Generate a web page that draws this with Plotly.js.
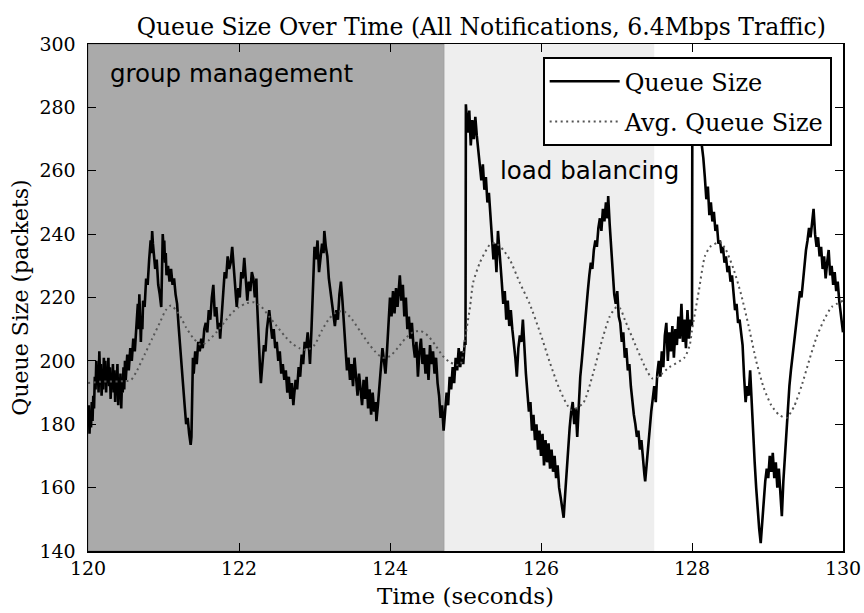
<!DOCTYPE html>
<html>
<head>
<meta charset="utf-8">
<script src="https://cdn.plot.ly/plotly-3.0.1.min.js"></script>
<style>html,body{margin:0;padding:0;background:#fff;}#chart{width:864px;height:613px;}</style>
</head>
<body>
<div id="chart"></div>
<script>
// Queue size samples: [time (s), packets]
const queueTime = [
120.00,120.01,120.02,120.03,120.04,120.05,120.06,120.07,120.08,120.09,120.10,120.11,120.12,120.13,120.14,120.15,120.16,120.17,120.18,120.19,
120.20,120.21,120.22,120.23,120.24,120.25,120.26,120.27,120.28,120.29,120.30,120.31,120.32,120.33,120.34,120.35,120.36,120.37,120.38,120.39,
120.40,120.41,120.42,120.43,120.44,120.45,120.46,120.47,120.48,120.49,120.50,120.52,120.54,120.56,120.58,120.60,120.62,120.64,120.66,120.67,
120.68,120.69,120.70,120.71,120.72,120.73,120.75,120.77,120.79,120.81,120.83,120.84,120.85,120.86,120.87,120.89,120.91,120.93,120.95,120.97,
120.98,120.99,121.00,121.01,121.02,121.03,121.04,121.06,121.08,121.10,121.12,121.14,121.16,121.18,121.20,121.22,121.24,121.26,121.28,121.30,
121.32,121.34,121.36,121.37,121.38,121.39,121.40,121.42,121.44,121.46,121.48,121.50,121.52,121.54,121.56,121.58,121.60,121.62,121.64,121.66,
121.67,121.68,121.70,121.72,121.74,121.75,121.77,121.79,121.81,121.83,121.85,121.87,121.89,121.91,121.92,121.94,121.96,121.97,121.99,122.01,
122.03,122.05,122.07,122.09,122.11,122.13,122.15,122.17,122.19,122.21,122.23,122.24,122.26,122.28,122.29,122.31,122.33,122.35,122.37,122.40,
122.42,122.44,122.46,122.48,122.50,122.52,122.54,122.56,122.58,122.60,122.62,122.64,122.66,122.68,122.70,122.72,122.73,122.75,122.77,122.79,
122.81,122.83,122.85,122.87,122.89,122.91,122.93,122.94,122.96,122.98,123.00,123.02,123.04,123.06,123.08,123.10,123.12,123.13,123.15,123.17,
123.19,123.21,123.23,123.25,123.27,123.29,123.31,123.33,123.35,123.37,123.39,123.41,123.43,123.45,123.47,123.49,123.51,123.53,123.55,123.57,
123.59,123.61,123.63,123.65,123.67,123.69,123.71,123.73,123.75,123.77,123.79,123.81,123.82,123.84,123.86,123.88,123.90,123.92,123.94,123.96,
123.98,124.00,124.02,124.04,124.06,124.08,124.10,124.12,124.13,124.15,124.17,124.19,124.21,124.23,124.25,124.27,124.29,124.31,124.33,124.35,
124.37,124.39,124.41,124.43,124.45,124.47,124.49,124.51,124.53,124.55,124.57,124.59,124.61,124.63,124.65,124.67,124.69,124.71,124.73,124.75,
124.77,124.79,124.81,124.83,124.85,124.87,124.89,124.91,124.93,124.95,124.97,124.99,125.00,125.005,125.01,125.03,125.05,125.07,125.09,125.11,
125.13,125.15,125.17,125.19,125.21,125.23,125.25,125.27,125.29,125.31,125.33,125.35,125.37,125.39,125.41,125.43,125.45,125.48,125.50,125.52,
125.54,125.56,125.58,125.60,125.62,125.64,125.66,125.68,125.70,125.72,125.74,125.76,125.78,125.80,125.82,125.84,125.86,125.88,125.90,125.92,
125.94,125.96,125.98,126.00,126.02,126.04,126.06,126.08,126.10,126.12,126.14,126.16,126.18,126.20,126.22,126.24,126.26,126.28,126.30,126.32,
126.34,126.36,126.38,126.40,126.42,126.44,126.46,126.48,126.50,126.52,126.54,126.56,126.58,126.60,126.62,126.64,126.66,126.68,126.70,126.72,
126.74,126.76,126.78,126.80,126.82,126.84,126.86,126.88,126.89,126.91,126.93,126.95,126.97,126.99,127.01,127.03,127.05,127.07,127.09,127.11,
127.13,127.15,127.17,127.19,127.21,127.23,127.25,127.27,127.29,127.31,127.33,127.35,127.37,127.38,127.40,127.42,127.44,127.46,127.48,127.50,
127.52,127.54,127.56,127.58,127.60,127.62,127.64,127.66,127.68,127.70,127.72,127.74,127.76,127.78,127.80,127.82,127.84,127.86,127.88,127.90,
127.92,127.94,127.96,127.98,128.00,128.005,128.02,128.05,128.08,128.11,128.13,128.15,128.17,128.19,128.21,128.23,128.25,128.27,128.29,128.31,
128.33,128.35,128.37,128.39,128.41,128.43,128.45,128.47,128.49,128.51,128.53,128.55,128.57,128.59,128.61,128.63,128.65,128.67,128.69,128.71,
128.73,128.75,128.77,128.79,128.81,128.83,128.85,128.87,128.89,128.91,128.93,128.95,128.97,128.99,129.01,129.03,129.05,129.07,129.09,129.11,
129.13,129.15,129.17,129.19,129.21,129.23,129.25,129.27,129.29,129.31,129.33,129.35,129.37,129.39,129.41,129.43,129.45,129.47,129.49,129.51,
129.53,129.55,129.57,129.59,129.61,129.63,129.65,129.67,129.69,129.71,129.73,129.75,129.77,129.79,129.81,129.83,129.85,129.87,129.89,129.91,
129.93,129.95,129.97,130.00
];
const queueSize = [
180,186,177,184,179,187,181,189,185,195,191,200,193,197,190,203,195,199,189,196,
191,201,194,200,190,198,193,201,192,198,188,196,191,199,190,197,187,195,192,199,
186,194,189,196,185,193,190,198,191,200,194,202,197,204,200,207,203,212,218,210,
221,214,206,214,210,219,217,226,224,232,238,234,241,237,235,229,232,224,221,217,
228,240,236,238,231,234,227,230,225,229,224,226,221,218,211,204,197,191,186,180,
182,177,173.5,176,190,201,196,203,199,206,203,207,204,210,212,209,216,213,220,224,
219,214,217,210,212,207,214,222,228,226,233,229,231,236,233,226,222,217,223,220,
228,226,232.5,225,219,225,222,228,226,220,226,218,205,197,193,200,205,203,210,216,
212,207,210,204,206,200,203,196,199,194,197,190,195,188,193,186,189,194,191,198,
195,202,199,206,204,209,203,199,210,222,236,232,238,228,233,237,234,241,236,233,
226,222,218,214,211,216,213,221,225,219,212,205,197,201,194,199,192,201,195,189,
196,190,186,194,188,195,185,191,183,190,184,187,181,186,193,199,204,200,196,203,
212,220,214,222,215,223,217,225,227,219,224,214,220,210,214,207,212,205,201,206,
195,203,207,199,204,196,202,194,205,199,203,196,201,193,189,182,186,178,183,190,
186,195,191,198,193,201,197,204,198,203,199,206,205,281,279,272,279,268,276,270,
277,271,266,261,257,262,254,258,250,253,246,240,232,237,228,241,233,225,218,222,
213,219,211,216,210,206,201,195,204,208,206,213,203,196,190,184,187,178,183,175,
180,172,178,170,177,167,175,168,174,166,172,165,170,163,167,160,157,153,150.5,158,
166,174,179,184,187,180,185,176,188,195,200,206,212,217,222,227,231,229,235,238,
236,242,245,241,248,244,250,245,252,243,236,228,221,218,222,214,212,206,209,201,
204,197,199,192,187,183,180,176,178,172,175,168,164,162,168,174,179,184,188,192,
187,196,200,195,203,198,208,212,200,209,203,211,201,210,205,214,207,218,206,213,
204,216,207,213,211,287,283,286,279,274,268,264,258,251,255,246,250,244,247,241,
243,237,238,234,236,231,233,228,230,225,227,220,216,218,212,213,208,205,195,187,
192,189,197,186,178,168,160,152,147,142.5,150,158,162,166,163,170,165,171,163,168,
160,166,158,151,162,170,178,186,192,197,201,206,209,212,217,222,220,226,231,235,
238,242,239,245,248,240,236,239,233,236,229,233,226,231,235,227,230,224,228,222,
225,219,214,209
];
// Average queue size samples
const avgTime = [
120.0,120.2,120.4,120.57,120.65,120.75,120.85,120.95,121.03,121.1,121.2,121.3,121.4,121.5,121.6,121.7,121.8,121.9,122.0,122.1,
122.2,122.3,122.4,122.5,122.6,122.7,122.8,122.9,123.0,123.1,123.2,123.3,123.4,123.5,123.6,123.7,123.8,123.9,124.0,124.1,
124.2,124.3,124.4,124.5,124.6,124.7,124.8,124.93,124.99,125.06,125.1,125.19,125.32,125.4,125.5,125.59,125.72,125.85,125.99,126.12,
126.25,126.4,126.56,126.69,126.82,126.91,127.0,127.05,127.11,127.24,127.38,127.47,127.55,127.7,127.9,127.97,128.0,128.09,128.17,128.24,
128.37,128.45,128.55,128.65,128.75,128.85,128.95,129.05,129.15,129.25,129.35,129.45,129.55,129.65,129.75,129.85,130.0
];
const avgSize = [
193,193.5,193.5,194,197,202,207,212,216,217.5,215,210.5,207,205,206.5,209,212,215,217,218.2,
218.5,217,214,211,208,205.5,204,203.4,205,209.7,213.5,215.5,215.5,213,209.5,206,203,201,201.5,204,
207,209,209.5,208,205,201.5,199.5,198.7,206.6,217,224.6,231,236.6,237.2,235,231.8,224.6,218,208.8,199.3,
190.8,184.5,186.7,196,207.5,214,217,216.5,213,205.6,198,194.5,195,198,201,205,209.7,222,233,236,
237.5,235,229,221,211,200,191.5,186,183,182,185.5,192,200,207.5,213,217,219
];
// Shaded phases
const phaseNames = ["group management", "load balancing"];
const phaseStart = [120, 124.72];
const phaseEnd = [124.72, 127.5];
const phaseColors = ["#aaaaaa", "#eeeeee"];
const phaseLabelX = [121.9, 126.64];
const phaseLabelY = [290.8, 260.2];

const serif = "DejaVu Serif, serif";
const sans = "DejaVu Sans, sans-serif";

const traces = [
  {x: queueTime, y: queueSize, type: "scatter", mode: "lines", name: "Queue Size", legendgroup: "a",
   line: {color: "#000000", width: 2.6}},
  {x: avgTime, y: avgSize, type: "scatter", mode: "lines", name: "Avg. Queue Size", legendgroup: "b",
   line: {color: "#555555", width: 2, dash: "2px,3.5px", shape: "spline", smoothing: 0.6}}
];

const shapes = phaseStart.map((s, i) => ({
  type: "rect", xref: "x", yref: "paper", x0: s, x1: phaseEnd[i], y0: 0, y1: 1,
  fillcolor: phaseColors[i], line: {width: i === 0 ? 1 : 0, color: "#888888"}, layer: "below"
}));

const annotations = phaseNames.map((t, i) => ({
  text: t, x: phaseLabelX[i], y: phaseLabelY[i], xref: "x", yref: "y",
  showarrow: false, font: {family: sans, size: 24.5, color: "#000"}
}));

const layout = {
  width: 864, height: 613,
  margin: {l: 88, r: 21, t: 44, b: 62},
  paper_bgcolor: "#ffffff", plot_bgcolor: "#ffffff",
  title: {text: "Queue Size Over Time (All Notifications, 6.4Mbps Traffic)",
          font: {family: serif, size: 23.5, color: "#000"},
          x: 0.557, xanchor: "center", y: 0.957, yanchor: "middle"},
  xaxis: {range: [120, 130], tickvals: [120,122,124,126,128,130], showgrid: false, zeroline: false,
          showline: true, linecolor: "#000", linewidth: 1.5, mirror: "ticks",
          ticks: "inside", ticklen: 8, tickwidth: 1, tickcolor: "#000",
          tickfont: {family: serif, size: 19, color: "#000"},
          title: {text: "Time (seconds)", font: {family: serif, size: 23, color: "#000"}, standoff: 9}},
  yaxis: {range: [140, 300], tickvals: [140,160,180,200,220,240,260,280,300], showgrid: false, zeroline: false,
          showline: true, linecolor: "#000", linewidth: 1.5, mirror: "ticks",
          ticks: "inside", ticklen: 8, tickwidth: 1, tickcolor: "#000", ticklabelstandoff: 7,
          tickfont: {family: serif, size: 19, color: "#000"},
          title: {text: "Queue Size (packets)", font: {family: serif, size: 22, color: "#000"}, standoff: 4}},
  showlegend: true,
  legend: {x: 0.985, y: 0.974, xanchor: "right", yanchor: "top", traceorder: "grouped",
           bgcolor: "#ffffff", bordercolor: "#000", borderwidth: 2,
           font: {family: serif, size: 24, color: "#000"}, itemwidth: 70, tracegroupgap: 6},
  shapes: shapes,
  annotations: annotations
};

Plotly.newPlot("chart", traces, layout, {displayModeBar: false, staticPlot: true});
</script>
</body>
</html>
